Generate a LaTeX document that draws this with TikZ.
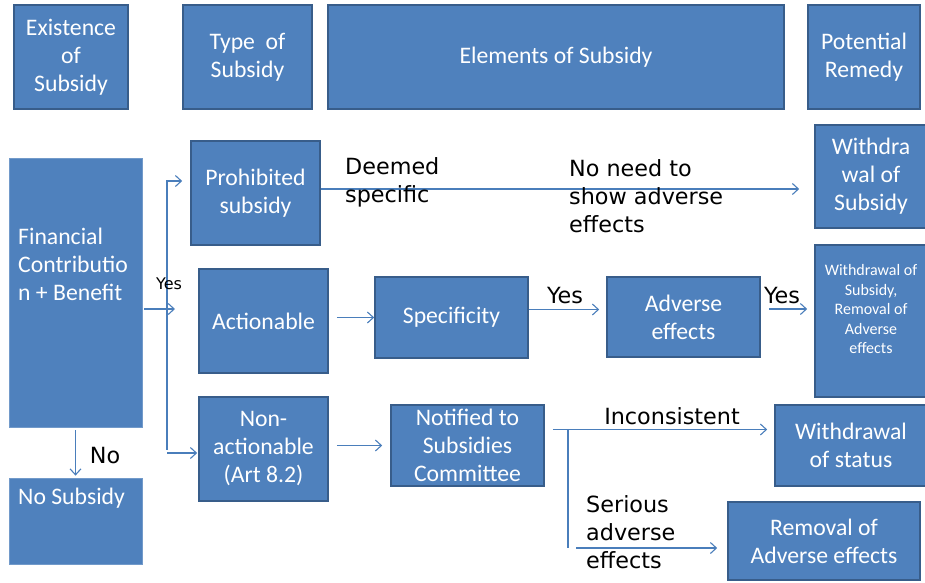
\documentclass[tikz,border=0pt]{standalone}
\usepackage{fontspec}
\setmainfont{Carlito}
\newfontfamily\lblfont{DejaVu Sans}
\usetikzlibrary{arrows.meta}
\definecolor{boxfill}{HTML}{4F81BD}
\definecolor{boxedge}{HTML}{385D8A}
\definecolor{linkblue}{HTML}{4A7EBB}

\begin{document}
\begin{tikzpicture}[x=1pt, y=1pt,
    box/.style={draw=boxedge, line width=1.6pt, fill=boxfill, text=white, align=center, inner sep=0pt, font=\fontsize{23.7}{28}\selectfont},
    plainbox/.style={box, draw=boxfill!80!white, line width=0.8pt},
    boxtext/.style={text=white, align=left, inner sep=0pt, font=\fontsize{23.7}{28}\selectfont},
    lbl/.style={font=\lblfont\fontsize{22.3}{28}\selectfont, align=left, inner sep=0pt},
    conn/.style={draw=linkblue, line width=1.1pt},
    arr/.style={conn, -{Straight Barb[length=6pt,width=11pt]}}]
    \useasboundingbox (0,0) rectangle (925,-582);

    \node[box, minimum width=114, minimum height=104] (exist) at (71,-57) {Existence\\of\\Subsidy};
    \node[box, minimum width=129, minimum height=104] (type) at (247.5,-57) {Type\ \ of\\Subsidy};
    \node[box, minimum width=456, minimum height=104] (elems) at (556,-57) {Elements of Subsidy};
    \node[box, minimum width=112, minimum height=104] (remedy) at (864,-57) {Potential\\Remedy};

    \node[plainbox, minimum width=133, minimum height=269] (fin) at (75.5,-292.5) {};
    \node[boxtext, anchor=west] (fintext) at (18,-264) {Financial\\Contributio\\n + Benefit};
    \node[plainbox, minimum width=133, minimum height=86] (nosub) at (75.5,-521) {};
    \node[boxtext, anchor=west] (nosubtext) at (18,-498) {No Subsidy};

    \node[box, minimum width=129, minimum height=104] (prohib) at (255.5,-193) {Prohibited\\subsidy};
    \node[box, minimum width=129, minimum height=104] (action) at (263.5,-321) {Actionable};
    \node[box, minimum width=129, minimum height=104] (nonact) at (263.5,-449) {Non-\\actionable\\(Art 8.2)};

    \node[box, minimum width=153, minimum height=81] (spec) at (451.5,-317.5) {Specificity};
    \node[box, minimum width=153, minimum height=80] (adverse) at (683.5,-317) {Adverse\\effects};
    \node[box, minimum width=153, minimum height=81] (notif) at (467.5,-445.5) {Notified to\\Subsidies\\Committee};

    \node[box, minimum width=112, minimum height=103] (rem1) at (871,-176.5) {Withdra\\wal of\\Subsidy};
    \node[box, minimum width=112, minimum height=152] (rem2) at (871,-321) {};
    \node[boxtext, align=center, font=\fontsize{16}{19.5}\selectfont] (rem2text) at (871,-309) {Withdrawal of\\Subsidy,\\Removal of\\Adverse\\effects};
    \node[box, minimum width=152, minimum height=81] (wstatus) at (851,-445.5) {Withdrawal\\of status};
    \node[box, minimum width=192, minimum height=78] (removal) at (824,-541) {Removal of\\Adverse effects};

    \coordinate (split) at (167,-309);
    \draw[arr, shorten <=2pt] (fin.east |- split) -- ([xshift=8]split);
    \draw[arr] (split) |- ([xshift=-8,yshift=12]prohib.west);
    \draw[conn] (split) -- ([yshift=-1]split |- nonact.west);
    \draw[arr] ([yshift=-4]split |- nonact.west) -- ([xshift=-1,yshift=-4]nonact.west);
    \node[lbl, font=\lblfont\fontsize{16}{19}\selectfont] (yes1) at (169,-284) {Yes};

    \draw[arr, shorten >=15pt] ([yshift=4]prohib.east) -- ([yshift=4]prohib.east -| rem1.west);
    \node[lbl, anchor=west] (deemed) at (345,-182) {Deemed\\specific};
    \node[lbl, anchor=west] (noneed) at (569,-196) {No need to\\show adverse\\effects};

    \draw[arr, shorten <=8pt] (action.east |- spec.west) -- (spec.west);
    \draw[arr, shorten >=7pt] ([yshift=8]spec.east) -- ([yshift=8]spec.east -| adverse.west);
    \node[lbl] (yes2) at (565,-296) {Yes};
    \draw[arr, shorten <=8pt, shorten >=7pt] ([yshift=8]adverse.east) -- ([yshift=8]adverse.east -| rem2.west);
    \node[lbl] (yes3) at (782,-296) {Yes};

    \draw[arr, shorten <=8pt, shorten >=8pt] (nonact.east |- notif.west) -- (notif.west);
    \draw[arr, shorten <=8pt, shorten >=7pt] ([yshift=16]notif.east) -- ([yshift=16]notif.east -| wstatus.west);
    \node[lbl] (incons) at (672,-416) {Inconsistent};
    \coordinate (fork) at (568,-429);
    \coordinate (low) at (568,-548);
    \draw[conn] (fork) -- (low);
    \draw[arr, shorten >=10pt] ([xshift=8]low) -- (low -| removal.west);
    \node[lbl, anchor=west] (serious) at (586,-532) {Serious\\adverse\\effects};

    \draw[arr, shorten <=3pt, shorten >=2pt] (fin.south) -- (nosub.north);
    \node[lbl] (no) at (105,-456) {No};
\end{tikzpicture}
\end{document}
